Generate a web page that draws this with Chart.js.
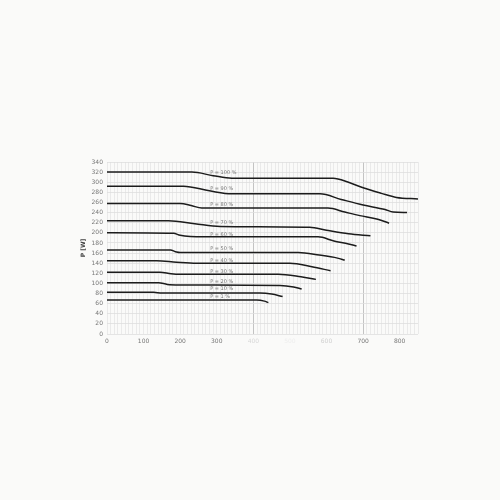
<!DOCTYPE html>
<html>
<head>
<meta charset="utf-8">
<script src="https://cdn.jsdelivr.net/npm/chart.js@4"></script>
<style>
  html, body { margin: 0; padding: 0; background: #fafaf9; }
  #wrap { width: 500px; height: 500px; }
</style>
</head>
<body>
<div id="wrap"><canvas id="chart"></canvas></div>
<script>
// --- data: [flow, P] pairs per curve
const curveLabels = ["P = 100 %", "P = 90 %", "P = 80 %", "P = 70 %", "P = 60 %",
                     "P = 50 %", "P = 40 %", "P = 30 %", "P = 20 %", "P = 10 %", "P = 1 %"];

const p100 = [[0,320],[232,320],[290,313],[341,308],[618,308],[660,300],[700,289],[750,278],[791,270],[850,267]];
const p90  = [[0,292],[209,292],[280,283],[341,277],[582,277],[640,266],[700,255],[760,246],[782,241],[820,240]];
const p80  = [[0,258],[200,258],[230,254],[259,249],[604,249],[650,241],[691,234],[740,227],[771,219]];
const p70  = [[0,224],[168,224],[240,218],[309,212.5],[554,211],[600,205],[660,198],[720,194]];
const p60  = [[0,200],[182,199],[200,195],[264,192],[577,192],[620,184],[660,178],[682,174]];
const p50  = [[0,166],[173,166],[190,162],[200,161],[523,161],[580,156],[630,150],[650,146]];
const p40  = [[0,145],[136,145],[190,142],[245,140],[500,140],[560,133],[611,125]];
const p30  = [[0,122],[145,122],[175,119],[200,118],[468,118],[530,113],[571,108]];
const p20  = [[0,101.5],[141,101.5],[165,98],[200,97],[473,96],[510,93],[532,89]];
const p10  = [[0,82.5],[127,82.5],[150,81],[418,81],[450,79],[480,74]];
const p1   = [[0,67],[409,67],[430,65],[441,62]];

const curves = [p100, p90, p80, p70, p60, p50, p40, p30, p20, p10, p1];

// where the curve names sit (flow, P)
const labelX = 282;
const labelY = [318, 288, 255, 220, 197, 168, 145, 123, 103.5, 89, 74.5];

const xTicks = [0, 100, 200, 300, 400, 500, 600, 700, 800];
const yMax = 340;
const xMax = 850;

// curve names drawn inside the plot
const curveNames = {
    id: "curveNames",
    afterDatasetsDraw(chart) {
        const { ctx, scales: { x, y } } = chart;
        ctx.save();
        ctx.font = "5px 'DejaVu Sans'";
        ctx.fillStyle = "#777";
        ctx.textBaseline = "middle";
        ctx.textAlign = "left";
        curveLabels.forEach((name, i) => {
            ctx.fillText(name, x.getPixelForValue(labelX), y.getPixelForValue(labelY[i]));
        });
        ctx.restore();
    },
};

// faded tick labels, as in the scan
function xTickColor(c) {
    const v = c.tick && c.tick.value;
    if (v === 400) return "#d8d8d8";
    if (v === 500) return "#eeeeee";
    if (v === 600) return "#cfcfcf";
    return "#777";
}

new Chart(document.getElementById("chart"), {
    type: "line",
    data: {
        datasets: curves.map((pts, i) => ({
            label: curveLabels[i],
            data: pts.map(p => ({ x: p[0], y: p[1] })),
            borderColor: "#1c1c1c",
            borderWidth: 1.5,
            pointRadius: 0,
            cubicInterpolationMode: "monotone",
            fill: false,
        })),
    },
    options: {
        responsive: true,
        maintainAspectRatio: false,
        animation: false,
        events: [],
        layout: { padding: { left: 80, top: 162, right: 82, bottom: 146 } },
        plugins: { legend: { display: false }, tooltip: { enabled: false } },
        scales: {
            x: {
                type: "linear",
                min: 0, max: xMax,
                afterFit: s => { s.height = 20; },
                border: { display: false },
                grid: {
                    color: c => ([400, 700].includes(c.tick.value) ? "#b5b5b5" : "#e6e6e6"),
                    lineWidth: 0.8,
                    drawTicks: false,
                },
                ticks: {
                    stepSize: 10,
                    autoSkip: false,
                    maxRotation: 0,
                    padding: 4,
                    color: xTickColor,
                    font: { size: 6, family: "'DejaVu Sans'" },
                    callback: v => (xTicks.includes(v) ? String(v) : ""),
                },
            },
            y: {
                min: 0, max: yMax,
                afterFit: s => { s.width = 27; },
                border: { display: false },
                grid: { color: "#dedede", lineWidth: 0.8, drawTicks: false },
                ticks: {
                    stepSize: 20,
                    autoSkip: false,
                    padding: 4,
                    color: "#777",
                    font: { size: 6, family: "'DejaVu Sans'" },
                },
                title: {
                    display: true,
                    text: "P [W]",
                    color: "#444",
                    padding: 0,
                    font: { size: 6, weight: "bold", family: "'DejaVu Sans'" },
                },
            },
        },
    },
    plugins: [curveNames],
});
</script>
</body>
</html>
